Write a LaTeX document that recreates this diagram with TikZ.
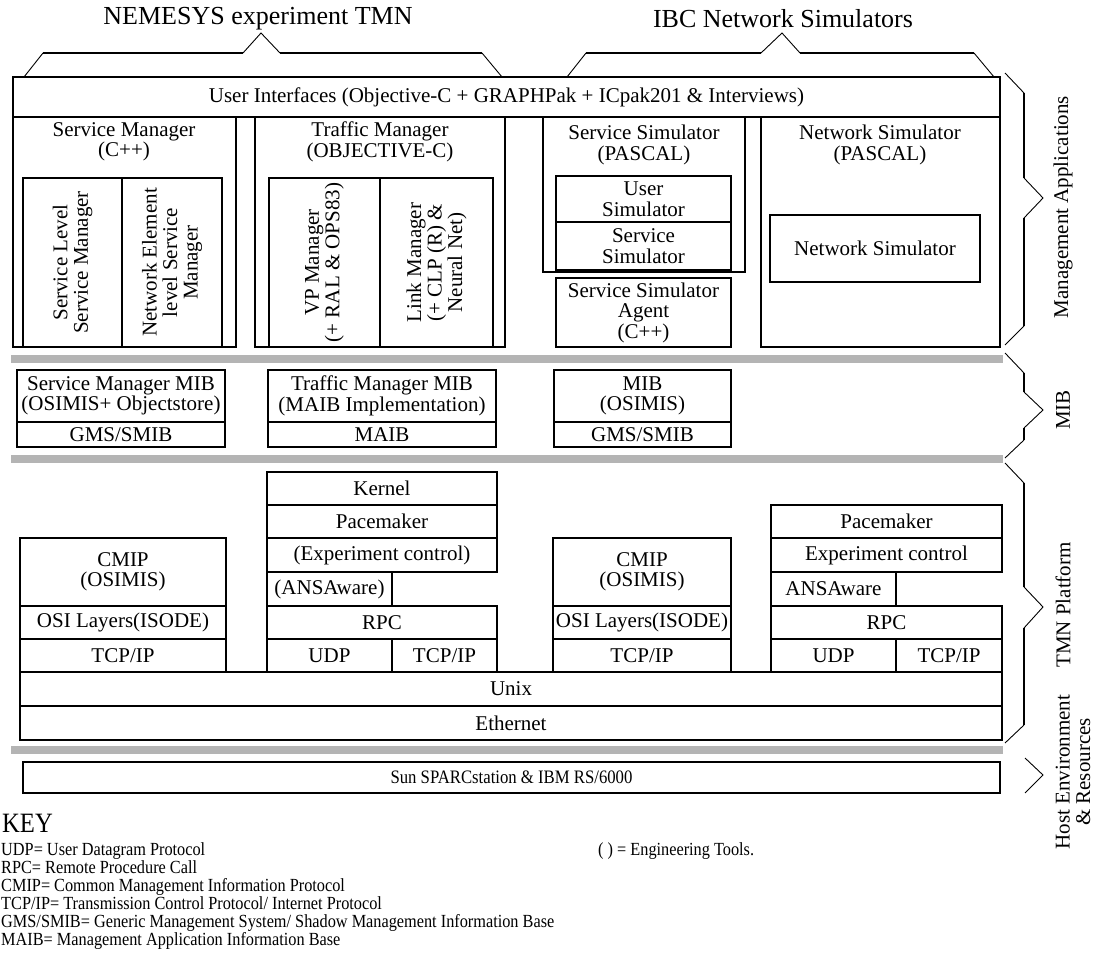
\documentclass[tikz,border=0pt]{standalone}
\usepackage{fontspec}
\setmainfont{Liberation Serif}
\newfontfamily\condfont[FakeStretch=0.88]{Liberation Serif}
\newcommand\bodyf{\fontsize{21}{20.5}\selectfont}
\newcommand\titlef{\fontsize{26}{28}\selectfont}
\newcommand\keyf{\condfont\fontsize{18.5}{18}\selectfont}
\newcommand\keyheadf{\condfont\fontsize{28}{30}\selectfont}
\definecolor{barg}{RGB}{180,180,180}
\newcommand\bx[6]{\node[box,minimum width={#4-#2},minimum height={#5-#3}] (#1) at ({(#2+#4)/2},{(#3+#5)/2}) {#6};}
\begin{document}
\begin{tikzpicture}[x=1pt,y=-1pt,
  box/.style={draw,line width=2.2pt,inner sep=0pt,align=center,font=\bodyf},
  lbl/.style={inner sep=0pt,align=center,font=\bodyf},
  rot/.style={lbl,rotate=90},
  ttl/.style={inner sep=0pt,font=\titlef},
  thinl/.style={line width=0.9pt},
  thickl/.style={line width=2.4pt},
  gbar/.style={fill=barg},
  keyl/.style={inner sep=0pt,font=\keyf}]
\useasboundingbox (0,0) rectangle (1095,974);
% titles and top braces
\node[ttl] (t1) at (258,19) {NEMESYS experiment TMN};
\node[ttl] (t2) at (783,19) {IBC Network Simulators};
\draw[thinl] (24,77) -- (43,53) (243,53) -- (261,33) -- (280,53) (482,53) -- (502,77);
\draw[thickl] (43,53) -- (243,53) (280,53) -- (482,53);
\draw[thinl] (567,77) -- (586,53) (761,53) -- (782,33) -- (800,53) (974,53) -- (994,77);
\draw[thickl] (586,53) -- (761,53) (800,53) -- (974,53);
% management applications
\bx{ui}{13}{77}{1000}{117}{User Interfaces (Objective-C + GRAPHPak + ICpak201 \& Interviews)}
\bx{sm}{13}{117}{236}{347}{}
\node[lbl] (smt) at (124,142) {Service Manager\\(C++)};
\bx{slsm}{23}{178}{122}{347}{}
\node[rot] (slsmt) at (slsm) {Service Level\\Service Manager};
\bx{nelsm}{122}{178}{222}{347}{}
\node[rot] (nelsmt) at (nelsm) {Network Element\\level Service\\Manager};
\bx{tm}{255}{117}{505}{347}{}
\node[lbl] (tmt) at (380,142) {Traffic Manager\\(OBJECTIVE-C)};
\bx{vp}{269}{178}{380}{347}{}
\node[rot] (vpt) at (vp) {VP Manager\\(+ RAL \& OPS83)};
\bx{lm}{380}{178}{493}{347}{}
\node[rot] (lmt) at (lm) {Link Manager\\(+ CLP (R) \&\\Neural Net)};
\bx{ss}{543}{117}{745}{272}{}
\node[lbl] (sst) at (644,145) {Service Simulator\\(PASCAL)};
\bx{us}{556}{176}{731}{222}{User\\Simulator}
\bx{ssi}{556}{222}{731}{270}{Service\\Simulator}
\bx{ssa}{556}{278}{731}{347}{Service Simulator\\Agent\\(C++)}
\bx{ns}{761}{117}{1000}{347}{}
\node[lbl] (nst) at (880,145) {Network Simulator\\(PASCAL)};
\bx{nsi}{770}{215}{980}{282}{Network Simulator}
% MIB layer
\fill[gbar] (11,355) rectangle (1003,363);
\bx{smmib}{17}{370}{225}{422}{Service Manager MIB\\(OSIMIS+ Objectstore)}
\bx{gms1}{17}{422}{225}{447}{GMS/SMIB}
\bx{tmmib}{268}{370}{496}{422}{Traffic Manager MIB\\(MAIB Implementation)}
\bx{maib}{268}{422}{496}{447}{MAIB}
\bx{mib}{554}{370}{731}{422}{MIB\\(OSIMIS)}
\bx{gms2}{554}{422}{731}{447}{GMS/SMIB}
\fill[gbar] (11,455) rectangle (1003,463);
% TMN platform
\bx{cmip1}{20}{538}{226}{606}{CMIP\\(OSIMIS)}
\bx{osi1}{20}{606}{226}{639}{OSI Layers(ISODE)}
\bx{tcp1}{20}{639}{226}{672}{TCP/IP}
\bx{kern}{267}{472}{497}{505}{Kernel}
\bx{pace1}{267}{505}{497}{538}{Pacemaker}
\bx{exp1}{267}{538}{497}{572}{(Experiment control)}
\bx{ans1}{267}{572}{392}{606}{(ANSAware)}
\bx{rpc1}{267}{606}{497}{639}{RPC}
\bx{udp1}{267}{639}{392}{672}{UDP}
\bx{tcp2}{392}{639}{497}{672}{TCP/IP}
\bx{cmip2}{553}{538}{731}{606}{CMIP\\(OSIMIS)}
\bx{osi2}{553}{606}{731}{639}{OSI Layers(ISODE)}
\bx{tcp3}{553}{639}{731}{672}{TCP/IP}
\bx{pace2}{771}{505}{1002}{538}{Pacemaker}
\bx{exp2}{771}{538}{1002}{572}{Experiment control}
\bx{ans2}{771}{572}{896}{606}{ANSAware}
\bx{rpc2}{771}{606}{1002}{639}{RPC}
\bx{udp2}{771}{639}{896}{672}{UDP}
\bx{tcp4}{896}{639}{1002}{672}{TCP/IP}
\bx{unix}{20}{672}{1002}{706}{Unix}
\bx{eth}{20}{706}{1002}{740}{Ethernet}
\fill[gbar] (11,746) rectangle (1003,754);
% host
\node[box,minimum width=977,minimum height=31,font=\condfont\fontsize{19}{19}\selectfont] (sun) at (511.5,777.5) {Sun SPARCstation \& IBM RS/6000};
% right braces
\draw[thinl] (1005,73) -- (1024,93) (1024,178) -- (1043,198) -- (1024,218) (1024,326) -- (1005,345);
\draw[thickl] (1024,93) -- (1024,178) (1024,218) -- (1024,326);
\node[rot] (lma) at (1063,207) {Management Applications};
\draw[thinl] (1005,353) -- (1024,373) (1024,392) -- (1043,410) -- (1024,428) (1024,440) -- (1005,458);
\draw[thickl] (1024,373) -- (1024,392) (1024,428) -- (1024,440);
\node[rot] (lmib) at (1063,410) {MIB};
\draw[thinl] (1005,463) -- (1024,483) (1024,587) -- (1043,607) -- (1024,628) (1024,725) -- (1005,743);
\draw[thickl] (1024,483) -- (1024,587) (1024,628) -- (1024,725);
\node[rot] (ltmn) at (1063,605) {TMN Platform};
\draw[thinl] (1025,758) -- (1043,775) -- (1025,793);
\node[rot] (lhost) at (1073,772) {Host Environment\\\& Resources};
% key
\node[inner sep=0pt,anchor=west,font=\keyheadf] (key) at (2,823) {KEY};
\node[keyl,anchor=north west,align=left] (keylist) at (1,842) {UDP= User Datagram Protocol\\
RPC= Remote Procedure Call\\
CMIP= Common Management Information Protocol\\
TCP/IP= Transmission Control Protocol/ Internet Protocol\\
GMS/SMIB= Generic Management System/ Shadow Management Information Base\\
MAIB= Management Application Information Base};
\node[keyl,anchor=north west] (tools) at (598,842) {( ) = Engineering Tools.};
\end{tikzpicture}
\end{document}
